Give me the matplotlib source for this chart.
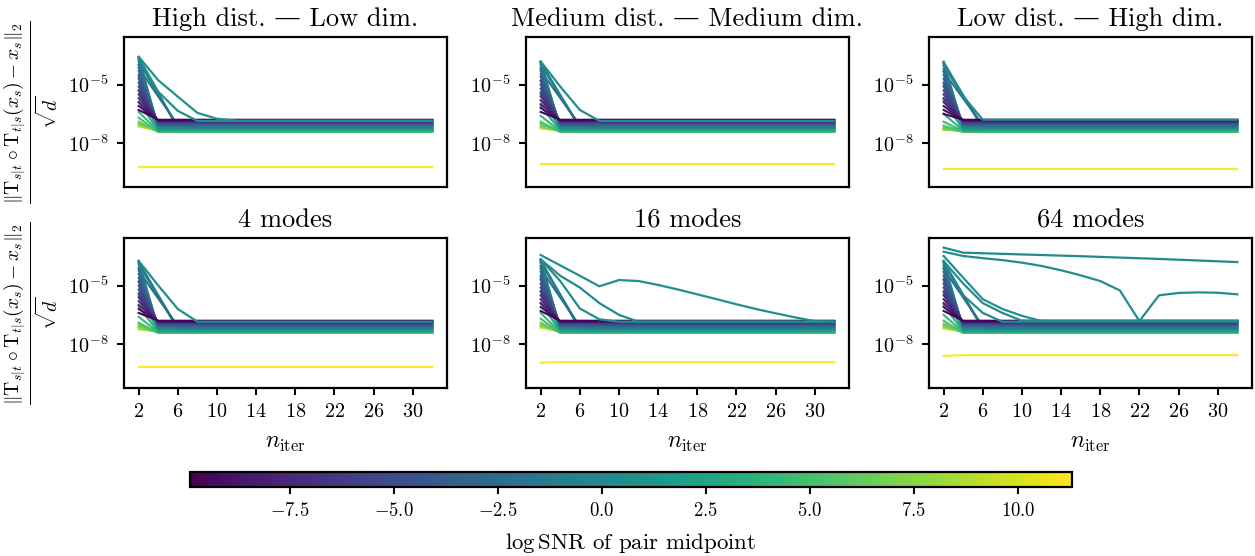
import numpy as np
import matplotlib
matplotlib.use("Agg")
import matplotlib.pyplot as plt
import matplotlib.colors as mcolors
import matplotlib.ticker as mticker
from matplotlib.cm import ScalarMappable

plt.rcParams["font.family"] = ["cmr10", "DejaVu Serif"]
plt.rcParams["mathtext.fontset"] = "cm"
plt.rcParams["axes.formatter.use_mathtext"] = True

FIG_SIZE = (12.55, 5.56)
DPI = 100
CMAP = plt.cm.viridis
SNR_MIN, SNR_MAX = -9.9, 11.3

TITLES = [
    "High dist. — Low dim.",
    "Medium dist. — Medium dim.",
    "Low dist. — High dim.",
    "4 modes",
    "16 modes",
    "64 modes",
]
X_TICKS = [2, 6, 10, 14, 18, 22, 26, 30]
N_FIRST, N_LAST = 2, 32
CBAR_TICKS = [-7.5, -5.0, -2.5, 0.0, 2.5, 5.0, 7.5, 10.0]

# log SNR of each pair midpoint (one line per pair)
LOG_SNR = [-9.8, -9.1, -8.4, -7.7, -7.0, -6.3, -5.6, -4.9, -4.2, -3.5,
           -2.8, -2.2, -1.6, -1.0, -0.5, 0.0, 0.5, 1.0, 1.6, 2.2,
           2.9, 3.6, 4.4, 5.2, 6.1, 7.0, 7.9, 8.8, 9.8, 11.2]

# iteration at which each line settles
CONV_ITER = [4, 4, 4, 4, 4, 4, 4, 4, 4, 4,
             4, 6, 4, 6, 4, 6, 4, 6, 4, 4,
             4, 4, 4, 4, 4, 4, 4, 4, 4, 4]

# log10 error after convergence (all but the highest-SNR pair)
PLATEAU = [-6.80, -6.82, -6.84, -6.86, -6.88, -6.90, -6.93, -6.96, -6.99, -7.02,
           -7.05, -7.08, -7.11, -7.14, -7.17, -7.20, -7.22, -7.24, -7.27, -7.30,
           -7.33, -7.36, -7.39, -7.42, -7.42, -7.40, -7.38, -7.36, -7.34]
# log10 error of the highest-SNR pair, per panel
LAST_PLATEAU = [-9.20, -9.05, -9.30, -9.18, -8.92, -8.56]

# log10 error at n_iter = 2, per panel
START_TL = [-6.30, -6.10, -5.90, -5.70, -5.50, -5.30, -5.10, -4.90, -4.70, -4.50,
            -4.30, -4.15, -4.00, -3.85, -3.75, -3.65, -3.60, -3.70, -4.00, -4.60,
            -5.30, -5.90, -6.40, -6.70, -6.90, -7.00, -7.05, -7.10, -7.15, -9.20]
START_TM = [-6.40, -6.20, -6.00, -5.80, -5.60, -5.40, -5.20, -5.00, -4.80, -4.60,
            -4.45, -4.30, -4.15, -4.00, -3.90, -3.85, -3.82, -3.90, -4.20, -4.80,
            -5.50, -6.10, -6.60, -6.90, -7.00, -7.10, -7.15, -7.20, -7.25, -9.05]
START_TR = [-6.50, -6.30, -6.10, -5.90, -5.70, -5.50, -5.30, -5.10, -4.90, -4.70,
            -4.50, -4.35, -4.20, -4.05, -3.95, -3.88, -3.84, -3.95, -4.30, -5.00,
            -5.80, -6.50, -6.90, -7.10, -7.20, -7.25, -7.30, -7.30, -7.30, -9.30]
START_BL = [-6.40, -6.20, -6.00, -5.80, -5.60, -5.40, -5.20, -5.00, -4.80, -4.60,
            -4.40, -4.25, -4.10, -3.95, -3.85, -3.78, -3.74, -3.85, -4.15, -4.80,
            -5.50, -6.10, -6.60, -6.90, -7.00, -7.10, -7.15, -7.20, -7.25, -9.18]
START_BM = [-6.30, -6.10, -5.90, -5.70, -5.50, -5.30, -5.10, -4.90, -4.70, -4.50,
            -4.30, -4.15, -4.00, -3.85, -3.75, -3.70, -3.66, -3.75, -4.05, -4.60,
            -5.30, -5.90, -6.40, -6.70, -6.90, -7.00, -7.05, -7.10, -7.15, -8.95]
START_BR = [-6.30, -6.10, -5.90, -5.70, -5.50, -5.30, -5.10, -4.90, -4.70, -4.50,
            -4.30, -4.15, -4.00, -3.90, -3.80, -3.76, -3.74, -3.80, -4.10, -4.70,
            -5.40, -6.00, -6.50, -6.80, -6.95, -7.05, -7.10, -7.15, -7.20, -8.60]
STARTS = [START_TL, START_TM, START_TR, START_BL, START_BM, START_BR]

# pairs that converge slowly: (log SNR, n_iter, log10 error)
SLOW_TL = [
    (0.8, [2, 4, 6, 8, 10, 12, 32], [-3.58, -4.78, -5.62, -6.45, -6.75, -6.85, -6.85]),
    (0.3, [2, 4, 6, 8, 32], [-3.62, -5.37, -6.35, -6.86, -6.86]),
]
SLOW_TM = [
    (0.5, [2, 4, 6, 8, 32], [-3.82, -5.10, -6.30, -6.86, -6.86]),
]
SLOW_TR = [
    (0.3, [2, 4, 6, 32], [-3.84, -5.60, -6.80, -6.80]),
]
SLOW_BL = [
    (0.5, [2, 4, 6, 8, 32], [-3.74, -5.00, -6.20, -6.85, -6.85]),
]
SLOW_BM = [
    (0.6, [2, 4, 6, 8, 10, 12, 14, 16, 18, 20, 22, 24, 26, 28, 30, 32],
     [-3.44, -3.97, -4.50, -5.04, -4.72, -4.77, -4.97, -5.20, -5.45, -5.70,
      -5.96, -6.20, -6.42, -6.63, -6.82, -6.85]),
    (0.4, [2, 4, 6, 8, 10, 32], [-3.66, -4.77, -6.17, -6.73, -6.85, -6.85]),
    (0.2, [2, 4, 6, 8, 10, 12, 32], [-3.66, -4.50, -5.10, -5.90, -6.50, -6.85, -6.85]),
]
SLOW_BR = [
    (0.3, [2, 4, 8, 12, 16, 20, 24, 28, 32],
     [-3.06, -3.32, -3.38, -3.44, -3.50, -3.57, -3.64, -3.72, -3.80]),
    (0.4, [2, 4, 6, 8, 10, 12, 14, 16, 18, 20, 22, 24, 26, 28, 30, 32],
     [-3.27, -3.49, -3.60, -3.70, -3.83, -4.00, -4.22, -4.48, -4.77, -5.25,
      -6.82, -5.50, -5.38, -5.35, -5.37, -5.45]),
    (0.6, [2, 4, 6, 8, 10, 12, 32], [-3.49, -4.60, -5.70, -6.20, -6.55, -6.82, -6.82]),
    (0.5, [2, 4, 6, 8, 10, 32], [-3.75, -4.90, -5.90, -6.40, -6.80, -6.80]),
    (0.2, [2, 4, 6, 8, 32], [-3.80, -5.50, -6.40, -6.85, -6.85]),
]
SLOWS = [SLOW_TL, SLOW_TM, SLOW_TR, SLOW_BL, SLOW_BM, SLOW_BR]

# axes rectangles in figure fractions
LEFTS = [0.0988, 0.4191, 0.7402]
ROW_BOTTOMS = [0.6637, 0.3022]
AX_W, AX_H = 0.2574, 0.269
Y_LIM = (10 ** -10.24, 10 ** -2.59)

YLABEL = (r"$\frac{\Vert \mathrm{T}_{s|t} \circ \mathrm{T}_{t|s}(x_s) - x_s \Vert_2}"
          r"{\sqrt{d}}$")


def draw_panel(ax, starts, slows, last_plateau, norm):
    plateaus = PLATEAU + [last_plateau]
    order = np.argsort(LOG_SNR)[::-1]  # low SNR drawn last, on top
    for i in order:
        conv = CONV_ITER[i]
        xs = [N_FIRST, conv, N_LAST]
        ys = 10.0 ** np.array([starts[i], plateaus[i], plateaus[i]])
        ax.plot(xs, ys, color=CMAP(norm(LOG_SNR[i])), linewidth=1.5)
    for snr, iters, vals in slows:
        ax.plot(iters, 10.0 ** np.array(vals), color=CMAP(norm(snr)), linewidth=1.6)


def main():
    fig = plt.figure(figsize=FIG_SIZE, dpi=DPI)
    norm = mcolors.Normalize(vmin=SNR_MIN, vmax=SNR_MAX)

    axes = []
    for k in range(6):
        row, col = divmod(k, 3)
        share = axes[0] if axes else None
        ax = fig.add_axes([LEFTS[col], ROW_BOTTOMS[row], AX_W, AX_H],
                          sharex=share, sharey=share)
        axes.append(ax)

        draw_panel(ax, STARTS[k], SLOWS[k], LAST_PLATEAU[k], norm)

        ax.set_yscale("log")
        ax.set_ylim(*Y_LIM)
        ax.set_xlim(0.5, 33.5)
        ax.yaxis.set_major_locator(mticker.FixedLocator([1e-8, 1e-5]))
        ax.yaxis.set_minor_locator(mticker.NullLocator())
        ax.set_xticks(X_TICKS)
        ax.set_title(TITLES[k], fontsize=19, pad=8)

        for sp in ax.spines.values():
            sp.set_linewidth(1.6)
        ax.tick_params(labelsize=14.5, width=1.5, length=5, pad=6)

        if row == 0:
            ax.tick_params(axis="x", bottom=False, labelbottom=False)
        else:
            ax.set_xlabel(r"$n_{\mathrm{iter}}$", fontsize=17, labelpad=8)
        if col == 0:
            ax.set_ylabel(YLABEL, fontsize=20, labelpad=6)

    cax = fig.add_axes([0.1514, 0.124, 0.7028, 0.027])
    sm = ScalarMappable(norm=norm, cmap=CMAP)
    cbar = fig.colorbar(sm, cax=cax, orientation="horizontal")
    cbar.set_ticks(CBAR_TICKS)
    cbar.outline.set_linewidth(1.6)
    cax.tick_params(labelsize=13.5, width=1.5, length=5, pad=6)
    cbar.set_label(r"$\log\mathrm{SNR}$ of pair midpoint", fontsize=16.5, labelpad=8)

    fig.savefig("out.png", dpi=DPI, facecolor="white")
    plt.close(fig)


if __name__ == "__main__":
    main()
